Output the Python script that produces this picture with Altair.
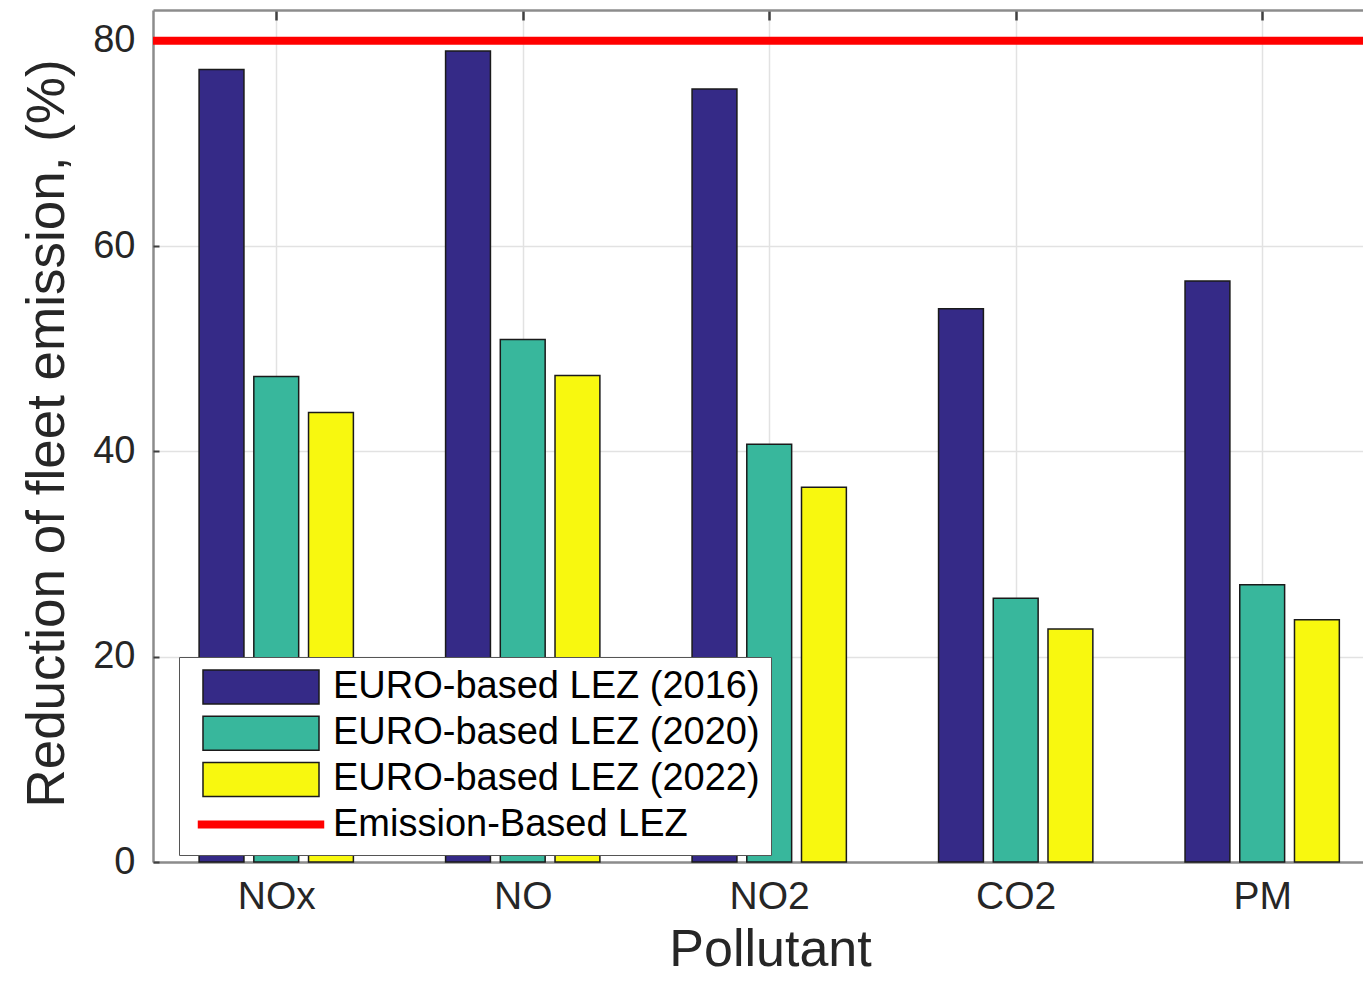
import altair as alt
import pandas as pd

# ---- data ----
pollutants = ["NOx", "NO", "NO2", "CO2", "PM"]
series_names = ["EURO-based LEZ (2016)", "EURO-based LEZ (2020)", "EURO-based LEZ (2022)"]
line_name = "Emission-Based LEZ"
v2016 = [77.2, 79.0, 75.3, 53.9, 56.6]
v2020 = [47.3, 50.9, 40.7, 25.7, 27.0]
v2022 = [43.8, 47.4, 36.5, 22.7, 23.6]
target = [80]
y_ticks = [0, 20, 40, 60, 80]

# ---- styles ----
bar_colors = ["#352a87", "#38b79c", "#f8f80f"]
line_color = "#ff0000"
edge = "#1a1a1a"
FONT = "Liberation Sans"
TXT = "#262626"
AX = "#8c8c8c"

rows = []
for si, (name, vals) in enumerate(zip(series_names, [v2016, v2020, v2022])):
    for pi, (p, v) in enumerate(zip(pollutants, vals)):
        rows.append({"pollutant": p, "pidx": pi + 1, "sidx": si, "series": name, "value": v})
bars_df = pd.DataFrame(rows)
line_df = pd.DataFrame({"value": target})
legend_domain = series_names + [line_name]
legend_df = pd.DataFrame({"series": legend_domain})

GROUP_STEP = 0.222
BAR_HALF = 0.091

x_scale = alt.Scale(domain=[0.5, 5.409], nice=False, zero=False)
y_scale = alt.Scale(domain=[0, 83], nice=False)
x_vals = list(range(1, len(pollutants) + 1))

label_expr = "[" + ",".join("'%s'" % p for p in pollutants) + "][datum.value - 1]"

x_axis = alt.Axis(
    orient="bottom", values=x_vals, labelExpr=label_expr, title="Pollutant",
    ticks=False, labelPadding=46, labelBaseline="alphabetic", labelFontSize=39,
    titleFontSize=52, titleBaseline="alphabetic", titleX=617, titleY=103,
)
y_axis = alt.Axis(
    orient="left", values=y_ticks, title="Reduction of fleet emission, (%)", ticks=False,
    labelPadding=18, labelFontSize=38, titleFontSize=53, titleBaseline="alphabetic",
    titleX=-90, titleY=423, titleAngle=270,
)
# inward tick marks (MATLAB style)
x_tick_axis = alt.Axis(
    orient="top", values=x_vals, labels=False, domain=False, grid=False, title=None,
    ticks=True, tickSize=10, offset=-10, tickColor="#404040", tickWidth=2.5,
)
y_tick_axis = alt.Axis(
    orient="left", values=y_ticks, labels=False, domain=False, grid=False, title=None,
    ticks=True, tickSize=6, offset=-6, tickColor="#404040", tickWidth=2,
)
# top border line
x_top_axis = alt.Axis(
    orient="top", labels=False, ticks=False, grid=False, title=None, domain=True,
)

fill_scale = alt.Scale(domain=series_names, range=bar_colors)
color_scale = alt.Scale(domain=legend_domain, range=bar_colors + [line_color])
rect_path = "M-3.412,-1H3.412V1H-3.412Z"
line_path = "M-3.676,-0.19H3.676V0.19H-3.676Z"
shape_scale = alt.Scale(domain=legend_domain, range=[rect_path] * 3 + [line_path])
stroke_scale = alt.Scale(domain=legend_domain, range=[edge] * 3 + [line_color])

legend = alt.Legend(
    orient="none", legendX=26, legendY=647, title=None,
    fillColor="white", strokeColor="#555555", padding=11,
    symbolSize=1156, symbolOffset=52, labelOffset=53, rowPadding=6.2,
    labelFontSize=38, labelFont=FONT, labelColor="black", labelLimit=1000,
    symbolStrokeWidth=1.5, symbolOpacity=1,
)

bars = alt.Chart(bars_df).mark_rect(stroke=edge, strokeWidth=1.5).transform_calculate(
    xc="datum.pidx + (datum.sidx - 1) * %f" % GROUP_STEP
).transform_calculate(
    x1="datum.xc - %f" % BAR_HALF, x2="datum.xc + %f" % BAR_HALF
).encode(
    x=alt.X("x1:Q", scale=x_scale, axis=x_axis),
    x2="x2:Q",
    y=alt.Y("value:Q", scale=y_scale, axis=y_axis),
    y2=alt.datum(0),
    fill=alt.Fill("series:N", scale=fill_scale, legend=None),
)

ticks_layer = alt.Chart(bars_df).mark_point(opacity=0).encode(
    x=alt.X("pidx:Q", scale=x_scale, axis=x_tick_axis),
    y=alt.Y("value:Q", scale=y_scale, axis=y_tick_axis),
)

rule = alt.Chart(line_df).mark_rule(color=line_color, strokeWidth=8).encode(
    y=alt.Y("value:Q", scale=y_scale, axis=None),
)

legend_layer = alt.Chart(legend_df).mark_point(filled=True, opacity=0, size=1156).encode(
    x=alt.X(datum=1, type="quantitative", scale=x_scale, axis=x_top_axis),
    y=alt.Y(datum=0, type="quantitative", scale=y_scale, axis=None),
    color=alt.Color("series:N", scale=color_scale, legend=legend),
    shape=alt.Shape("series:N", scale=shape_scale, legend=legend),
    stroke=alt.Stroke("series:N", scale=stroke_scale, legend=legend),
)

chart = alt.layer(bars, ticks_layer, rule, legend_layer).resolve_axis(
    x="independent", y="independent"
).properties(
    width=1210, height=852,
    padding={"left": 145, "top": 2, "right": 0, "bottom": 115},
    autosize=alt.AutoSizeParams(type="none"),
    background="white",
).configure_view(
    stroke="transparent",
).configure_axis(
    domainColor=AX, domainWidth=2.5, gridColor="#e2e2e2", gridWidth=1.5,
    labelFont=FONT, labelColor=TXT, titleFont=FONT, titleColor=TXT,
    titleFontWeight="normal",
)

chart.save("out.html", embed_options={"renderer": "svg", "actions": False})
